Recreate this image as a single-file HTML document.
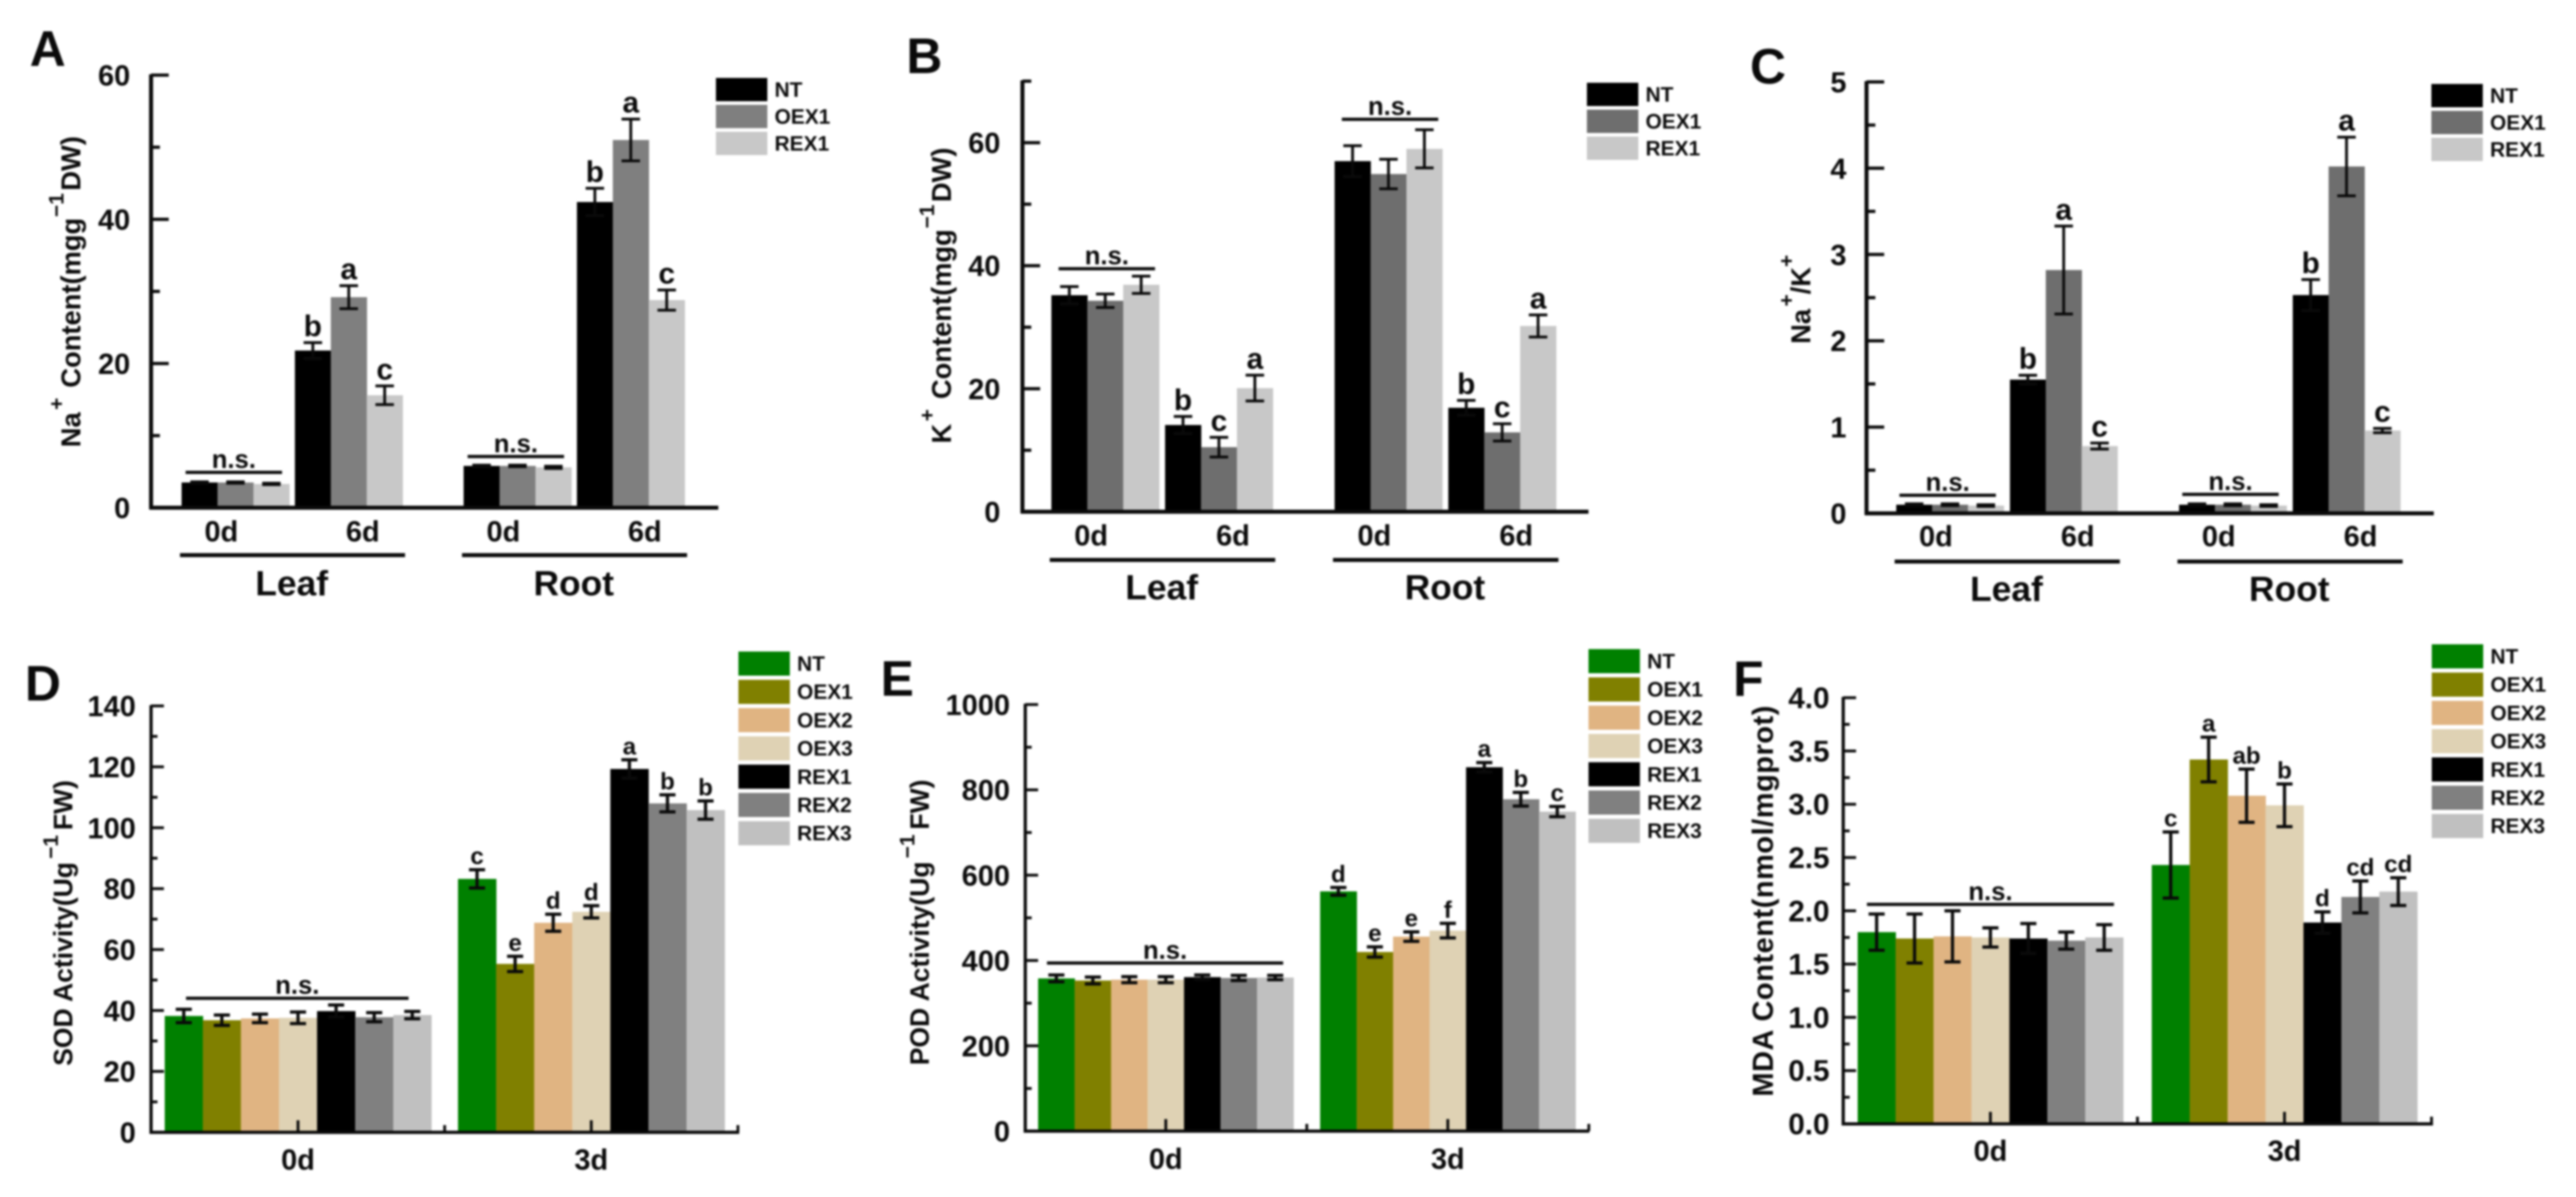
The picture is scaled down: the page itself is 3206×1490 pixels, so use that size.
<!DOCTYPE html>
<html lang="en">
<head>
<meta charset="utf-8">
<title>Ion content and antioxidant activity bar charts</title>
<style>
html,body{margin:0;padding:0;background:#fff;width:3206px;height:1490px;overflow:hidden}
svg{display:block;filter:blur(1.2px)}
text{font-family:"Liberation Sans",Arial,sans-serif;font-weight:bold;fill:#0a0a0a}
</style>
</head>
<body>
<svg id="fig" xmlns="http://www.w3.org/2000/svg" width="3206" height="1490" viewBox="0 0 3206 1490">
  <rect width="3206" height="1490" fill="#fff"/>
  <text x="37" y="82" font-size="62">A</text>
  <text x="1128" y="91" font-size="62">B</text>
  <text x="2178" y="104" font-size="62">C</text>
  <text x="31" y="872" font-size="62">D</text>
  <text x="1096" y="866" font-size="62">E</text>
  <text x="2157" y="866" font-size="62">F</text>

  <text transform="translate(100 556.7) rotate(-90)" font-size="34">Na<tspan dx="3" dy="-21" font-size="26">+</tspan><tspan dx="3" dy="21"> Content(mgg</tspan><tspan dx="1" dy="-21" font-size="26">−1</tspan><tspan dx="3" dy="21">DW)</tspan></text>
  <text transform="translate(1183.5 552) rotate(-90)" font-size="34">K<tspan dx="3" dy="-21" font-size="26">+</tspan><tspan dx="3" dy="21"> Content(mgg</tspan><tspan dx="1" dy="-21" font-size="26">−1</tspan><tspan dx="3" dy="21">DW)</tspan></text>
  <text transform="translate(2253 428) rotate(-90)" font-size="34">Na<tspan dx="3" dy="-21" font-size="26">+</tspan><tspan dy="21">/K</tspan><tspan dy="-21" font-size="26">+</tspan></text>
  <text transform="translate(90 1326.7) rotate(-90)" font-size="33">SOD Activity(Ug<tspan dx="4" dy="-18" font-size="26">−1</tspan><tspan dx="6" dy="18">FW)</tspan></text>
  <text transform="translate(1156 1326) rotate(-90)" font-size="33">POD Activity(Ug<tspan dx="4" dy="-18" font-size="26">−1</tspan><tspan dx="6" dy="18">FW)</tspan></text>
  <text transform="translate(2206.7 1365) rotate(-90)" font-size="36" letter-spacing="0.7">MDA Content(nmol/mgprot)</text>
</svg>

<script>
// ---------- Panel A data ----------
const aCategories = ["0d", "6d", "0d", "6d"];
const aTissues = ["Leaf", "Root"];
const aSeriesNames = ["NT", "OEX1", "REX1"];
const aTickLabels = ["0", "20", "40", "60"];
const aNT = [3.5, 21.8, 5.8, 42.4];
const aOEX1 = [3.5, 29.2, 5.8, 51];
const aREX1 = [3.3, 15.6, 5.6, 28.8];
const aNTErr = [0.1, 1.1, 0.1, 1.9];
const aOEX1Err = [0.1, 1.6, 0.1, 2.9];
const aREX1Err = [0.1, 1.3, 0.15, 1.4];
const aNTLetters = ["", "b", "", "b"];
const aOEX1Letters = ["", "a", "", "a"];
const aREX1Letters = ["", "c", "", "c"];
const aNsLevels = [4.9, null, 7.1, null];

// ---------- Panel B data ----------
const bCategories = ["0d", "6d", "0d", "6d"];
const bTissues = ["Leaf", "Root"];
const bSeriesNames = ["NT", "OEX1", "REX1"];
const bTickLabels = ["0", "20", "40", "60"];
const bNT = [35.2, 14.1, 57, 16.9];
const bOEX1 = [34.3, 10.5, 54.9, 12.9];
const bREX1 = [36.9, 20.1, 59, 30.2];
const bNTErr = [1.4, 1.4, 2.5, 1.2];
const bOEX1Err = [1.1, 1.6, 2.4, 1.4];
const bREX1Err = [1.4, 2.1, 3.1, 1.8];
const bNTLetters = ["", "b", "", "b"];
const bOEX1Letters = ["", "c", "", "c"];
const bREX1Letters = ["", "a", "", "a"];
const bNsLevels = [39.5, null, 63.8, null];

// ---------- Panel C data ----------
const cCategories = ["0d", "6d", "0d", "6d"];
const cTissues = ["Leaf", "Root"];
const cSeriesNames = ["NT", "OEX1", "REX1"];
const cTickLabels = ["0", "1", "2", "3", "4", "5"];
const cNT = [0.1, 1.55, 0.1, 2.53];
const cOEX1 = [0.1, 2.82, 0.1, 4.02];
const cREX1 = [0.09, 0.78, 0.09, 0.96];
const cNTErr = [0.01, 0.05, 0.01, 0.18];
const cOEX1Err = [0.01, 0.51, 0.01, 0.34];
const cREX1Err = [0.01, 0.035, 0.01, 0.025];
const cNTLetters = ["", "b", "", "b"];
const cOEX1Letters = ["", "a", "", "a"];
const cREX1Letters = ["", "c", "", "c"];
const cNsLevels = [0.21, null, 0.22, null];

// ---------- Panel D data ----------
const dCategories = ["0d", "3d"];
const dSeriesNames = ["NT", "OEX1", "OEX2", "OEX3", "REX1", "REX2", "REX3"];
const dTickLabels = ["0", "20", "40", "60", "80", "100", "120", "140"];
const dValues0d = [38.2, 36.8, 37.4, 37.6, 39.8, 37.8, 38.5];
const dValues3d = [83.2, 55.3, 68.8, 72.4, 119.3, 108, 105.8];
const dErrors0d = [2.2, 1.7, 1.4, 1.9, 2, 1.5, 1.2];
const dErrors3d = [3, 2.5, 2.8, 2, 3, 2.8, 3];
const dLetters0d = ["", "", "", "", "", "", ""];
const dLetters3d = ["c", "e", "d", "d", "a", "b", "b"];
const dNsLevels = [44, null];

// ---------- Panel E data ----------
const eCategories = ["0d", "3d"];
const eSeriesNames = ["NT", "OEX1", "OEX2", "OEX3", "REX1", "REX2", "REX3"];
const eTickLabels = ["0", "200", "400", "600", "800", "1000"];
const eValues0d = [358, 353, 355, 355, 361, 359, 360];
const eValues3d = [562, 420, 456, 470, 853, 778, 749];
const eErrors0d = [8, 8, 7, 7, 5, 6, 5];
const eErrors3d = [9, 12, 11, 17, 11, 16, 12];
const eLetters0d = ["", "", "", "", "", "", ""];
const eLetters3d = ["d", "e", "e", "f", "a", "b", "c"];
const eNsLevels = [394, null];

// ---------- Panel F data ----------
const fCategories = ["0d", "3d"];
const fSeriesNames = ["NT", "OEX1", "OEX2", "OEX3", "REX1", "REX2", "REX3"];
const fTickLabels = ["0.0", "0.5", "1.0", "1.5", "2.0", "2.5", "3.0", "3.5", "4.0"];
const fValues0d = [1.8, 1.74, 1.76, 1.75, 1.74, 1.72, 1.75];
const fValues3d = [2.43, 3.42, 3.08, 2.99, 1.89, 2.13, 2.18];
const fErrors0d = [0.17, 0.23, 0.24, 0.09, 0.14, 0.08, 0.12];
const fErrors3d = [0.31, 0.21, 0.25, 0.2, 0.1, 0.15, 0.13];
const fLetters0d = ["", "", "", "", "", "", ""];
const fLetters3d = ["c", "a", "ab", "b", "d", "cd", "cd"];
const fNsLevels = [2.06, null];

const svg = document.getElementById('fig');
const SVGNS = 'http://www.w3.org/2000/svg';

function make(parent, tag, attrs, content) {
  const el = document.createElementNS(SVGNS, tag);
  for (const k in attrs) el.setAttribute(k, attrs[k]);
  if (content !== undefined) el.textContent = content;
  parent.appendChild(el);
  return el;
}

function drawAxes(g, p, y) {
  let el = make(g, 'line', {x1: p.axisX, x2: p.axisX, y1: y(p.yMax) - 1, y2: p.yZero + 2, stroke: '#0a0a0a', 'stroke-width': p.axisW});
  
  
  el = make(g, 'line', {x1: p.axisX - 2, x2: p.xEnd, y1: p.yZero, y2: p.yZero, stroke: '#0a0a0a', 'stroke-width': p.axisW});
  
  
  const tickCount = Math.round(p.yMax / p.minorStep);
  for (let i = 0; i <= tickCount; i++) {
    const v = i * p.minorStep;
    const isMajor = i % 2 === 0;
    el = make(g, 'line', {x1: p.axisX, x2: p.axisX + (isMajor ? p.tickLen : p.tickLen / 2), y1: y(v), y2: y(v), stroke: '#0a0a0a', 'stroke-width': p.tickW});
    
    
  }
  p.tickLabels.forEach(function (label) {
    const t = make(g, 'text', {x: p.labelRight, y: y(parseFloat(label)) + 13, 'text-anchor': 'end', 'font-size': p.tickFont}, label);
    
    
  });
}

function drawLegend(g, p) {
  p.seriesNames.forEach(function (name, s) {
    const top = p.legendY + s * p.legendStep;
    const r = make(g, 'rect', {x: p.legendX - 1, y: top, width: p.swatchW, height: p.swatchH, fill: p.colors[s]});
    
    
    const t = make(g, 'text', {x: p.legendX - 1 + p.swatchW + 9, y: top + p.swatchH / 2 + 9, 'font-size': 26}, name);
    
    
  });
}

function drawBars(g, p, y, groupCount, seriesValue, seriesErr, seriesLetter) {
  for (let gi = 0; gi < groupCount; gi++) {
    const start = p.groupStart(gi);
    p.seriesNames.forEach(function (name, s) {
      const v = seriesValue(gi, s);
      const e = seriesErr(gi, s);
      const left = start + s * p.barW;
      const cx = left + p.barW / 2;
      const bar = make(g, 'rect', {x: left, y: y(v), width: p.barW + 0.4, height: p.yZero - y(v), fill: p.colors[s]});
      
      
      const errG = make(g, 'path', {d: 'M' + cx + ' ' + y(v + e) + 'V' + y(v - e) + 'M' + (cx - p.capW / 2) + ' ' + y(v + e) + 'H' + (cx + p.capW / 2) + 'M' + (cx - p.capW / 2) + ' ' + y(v - e) + 'H' + (cx + p.capW / 2), stroke: '#0a0a0a', 'stroke-width': p.errW, fill: 'none'});
      
      
      const letter = seriesLetter(gi, s);
      if (letter) {
        const t = make(g, 'text', {x: cx, y: y(v + e) - p.letterGap, 'text-anchor': 'middle', 'font-size': p.letterSize}, letter);
        
        
      }
    });
    const ns = p.nsLevels[gi];
    if (ns !== null) {
      const x1 = start + p.nsOffset;
      const x2 = x1 + p.nsLength;
      const line = make(g, 'line', {x1: x1, x2: x2, y1: y(ns), y2: y(ns), stroke: '#0a0a0a', 'stroke-width': 4});
      
      
      const t = make(g, 'text', {x: (x1 + x2) / 2, y: y(ns) - 5.5, 'text-anchor': 'middle', 'font-size': 32}, 'n.s.');
      
      
    }
  }
}

function drawIonPanel(p) {
  const g = make(svg, 'g', {});
  
  
  const y = function (v) { return p.yZero - v * (p.yZero - p.yTop) / p.yRef; };
  p.groupStart = function (i) { return p.axisX + p.pad + i * p.groupStep + Math.floor(i / 2) * p.extraGap; };
  const vals = [p.nt, p.oex, p.rex];
  const errs = [p.ntErr, p.oexErr, p.rexErr];
  const lets = [p.ntLetters, p.oexLetters, p.rexLetters];
  drawBars(g, p, y, p.categories.length,
    function (gi, s) { return vals[s][gi]; },
    function (gi, s) { return errs[s][gi]; },
    function (gi, s) { return lets[s][gi]; });
  drawAxes(g, p, y);
  drawLegend(g, p);
  const groupW = 3 * p.barW;
  p.categories.forEach(function (cat, i) {
    const cx = p.groupStart(i) + groupW / 2 + (i % 2 === 0 ? -17.5 : 17.5);
    const t = make(g, 'text', {x: cx, y: p.catBaseline, 'text-anchor': 'middle', 'font-size': 36}, cat);
    
    
  });
  p.tissues.forEach(function (tissue, i) {
    const x1 = p.groupStart(i * 2) - 2;
    const x2 = p.groupStart(i * 2 + 1) + groupW + 3;
    const l = make(g, 'line', {x1: x1, x2: x2, y1: p.ruleY, y2: p.ruleY, stroke: '#0a0a0a', 'stroke-width': 5});
    
    
    const t = make(g, 'text', {x: (x1 + x2) / 2 - 1, y: p.tissueBaseline, 'text-anchor': 'middle', 'font-size': 44}, tissue);
    
    
  });
}

function drawEnzymePanel(p) {
  const g = make(svg, 'g', {});
  
  
  const y = function (v) { return p.yZero - v * (p.yZero - p.yTop) / p.yRef; };
  p.groupStart = function (i) { return p.firstStart + i * p.groupStep; };
  drawBars(g, p, y, p.categories.length,
    function (gi, s) { return p.values[gi][s]; },
    function (gi, s) { return p.errors[gi][s]; },
    function (gi, s) { return p.letters[gi][s]; });
  drawAxes(g, p, y);
  drawLegend(g, p);
  const groupW = p.seriesNames.length * p.barW;
  const half = p.groupStep / 2;
  p.categories.forEach(function (cat, i) {
    const cx = p.groupStart(i) + groupW / 2;
    const t = make(g, 'text', {x: cx, y: p.catBaseline, 'text-anchor': 'middle', 'font-size': 36}, cat);
    
    
    const major = make(g, 'line', {x1: cx, x2: cx, y1: p.yZero, y2: p.yZero - 15, stroke: '#0a0a0a', 'stroke-width': p.tickW});
    
    
    const minor = make(g, 'line', {x1: cx + half, x2: cx + half, y1: p.yZero, y2: p.yZero - 9, stroke: '#0a0a0a', 'stroke-width': p.tickW});
    
    
  });
}

const ionShared = {axisW: 5, tickW: 4, tickLen: 22, tickFont: 36, swatchW: 64, swatchH: 29, legendStep: 33.5, capW: 23, errW: 3.5, letterGap: 8, letterSize: 37, nsLength: 120};
const enzymeShared = {axisW: 4, tickW: 3.5, tickLen: 16, tickFont: 36, swatchW: 64, swatchH: 30, legendStep: 35.2, capW: 20, errW: 4, letterGap: 7, letterSize: 30, colors: ['#008000', '#808000', '#e0b482', '#dfd2b4', '#000000', '#808080', '#c0c0c0']};

drawIonPanel(Object.assign({}, ionShared, {
  name: 'panel-a-sodium-content', axisX: 188, xEnd: 894, yZero: 632, yTop: 93.5, yRef: 60, yMax: 60, minorStep: 10,
  tickLabels: aTickLabels, labelRight: 162, pad: 38, groupStep: 141, extraGap: 69, barW: 44.7,
  categories: aCategories, tissues: aTissues, seriesNames: aSeriesNames, colors: ['#000000', '#7f7f7f', '#c8c8c8'],
  nt: aNT, oex: aOEX1, rex: aREX1, ntErr: aNTErr, oexErr: aOEX1Err, rexErr: aREX1Err,
  ntLetters: aNTLetters, oexLetters: aOEX1Letters, rexLetters: aREX1Letters,
  nsLevels: aNsLevels, nsOffset: 5,
  legendX: 892, legendY: 97, catBaseline: 674, ruleY: 691, tissueBaseline: 741
}));
drawIonPanel(Object.assign({}, ionShared, {
  name: 'panel-b-potassium-content', axisX: 1272.5, xEnd: 1977, yZero: 637, yTop: 177.6, yRef: 60, yMax: 70, minorStep: 10,
  tickLabels: bTickLabels, labelRight: 1245, pad: 36, groupStep: 141.5, extraGap: 69.5, barW: 44.7,
  categories: bCategories, tissues: bTissues, seriesNames: bSeriesNames, colors: ['#000000', '#6e6e6e', '#c8c8c8'],
  nt: bNT, oex: bOEX1, rex: bREX1, ntErr: bNTErr, oexErr: bOEX1Err, rexErr: bREX1Err,
  ntLetters: bNTLetters, oexLetters: bOEX1Letters, rexLetters: bREX1Letters,
  nsLevels: bNsLevels, nsOffset: 9,
  legendX: 1976, legendY: 103, catBaseline: 679, ruleY: 697, tissueBaseline: 746
}));
drawIonPanel(Object.assign({}, ionShared, {
  name: 'panel-c-sodium-potassium-ratio', axisX: 2323, xEnd: 3029, yZero: 639, yTop: 102, yRef: 5, yMax: 5, minorStep: 0.5,
  tickLabels: cTickLabels, labelRight: 2298, pad: 37, groupStep: 141.5, extraGap: 69, barW: 44.6,
  categories: cCategories, tissues: cTissues, seriesNames: cSeriesNames, colors: ['#000000', '#6e6e6e', '#c8c8c8'],
  nt: cNT, oex: cOEX1, rex: cREX1, ntErr: cNTErr, oexErr: cOEX1Err, rexErr: cREX1Err,
  ntLetters: cNTLetters, oexLetters: cOEX1Letters, rexLetters: cREX1Letters,
  nsLevels: cNsLevels, nsOffset: 4,
  legendX: 3027, legendY: 104.5, catBaseline: 680, ruleY: 699, tissueBaseline: 748
}));
drawEnzymePanel(Object.assign({}, enzymeShared, {
  name: 'panel-d-sod-activity', axisX: 188, xEnd: 920, yZero: 1409.5, yTop: 878.7, yRef: 140, yMax: 140, minorStep: 10,
  tickLabels: dTickLabels, labelRight: 169, firstStart: 205, groupStep: 365, barW: 47.4,
  categories: dCategories, seriesNames: dSeriesNames,
  values: [dValues0d, dValues3d], errors: [dErrors0d, dErrors3d], letters: [dLetters0d, dLetters3d],
  nsLevels: dNsLevels, nsOffset: 26.5, nsLength: 277,
  legendX: 920, legendY: 811, catBaseline: 1456
}));
drawEnzymePanel(Object.assign({}, enzymeShared, {
  name: 'panel-e-pod-activity', axisX: 1276, xEnd: 1978, yZero: 1408, yTop: 877, yRef: 1000, yMax: 1000, minorStep: 100,
  tickLabels: eTickLabels, labelRight: 1257, firstStart: 1292, groupStep: 351, barW: 45.4,
  categories: eCategories, seriesNames: eSeriesNames,
  values: [eValues0d, eValues3d], errors: [eErrors0d, eErrors3d], letters: [eLetters0d, eLetters3d],
  nsLevels: eNsLevels, nsOffset: 11, nsLength: 294,
  legendX: 1978, legendY: 808, catBaseline: 1455
}));
drawEnzymePanel(Object.assign({}, enzymeShared, {
  name: 'panel-f-mda-content', axisX: 2294, xEnd: 3028, yZero: 1399, yTop: 868.5, yRef: 4, yMax: 4, minorStep: 0.25,
  tickFont: 37, tickLabels: fTickLabels, labelRight: 2277, firstStart: 2312, groupStep: 366, barW: 47.2,
  categories: fCategories, seriesNames: fSeriesNames,
  values: [fValues0d, fValues3d], errors: [fErrors0d, fErrors3d], letters: [fLetters0d, fLetters3d],
  nsLevels: fNsLevels, nsOffset: 11.5, nsLength: 307.5,
  legendX: 3027.5, legendY: 802, catBaseline: 1445
}));
</script>
</body>
</html>
